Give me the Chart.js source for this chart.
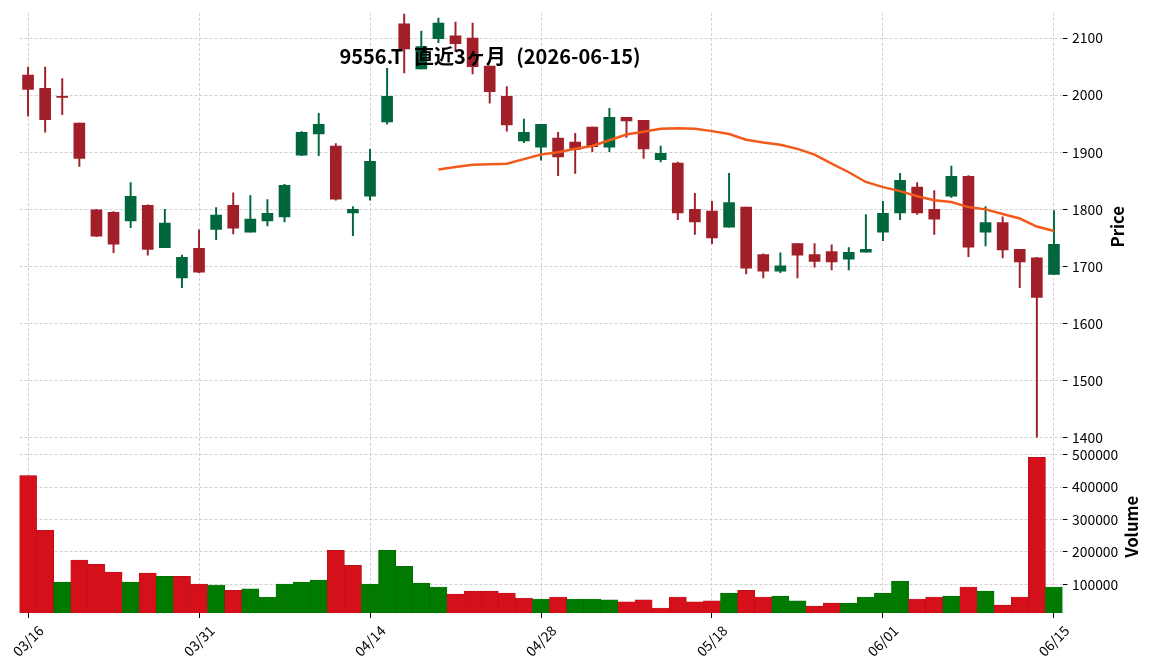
<!DOCTYPE html>
<html>
<head>
<meta charset="utf-8">
<script src="https://cdn.jsdelivr.net/npm/chart.js@4.4.1/dist/chart.umd.min.js"></script>
<style>
  html, body { margin: 0; padding: 0; background: #ffffff; }
  #wrap { width: 1152px; height: 670px; position: relative; }
</style>
</head>
<body>
<div id="wrap"><canvas id="c" width="1152" height="670"></canvas></div>
<script>
const chartTitle = '9556.T 直近3ヶ月 (2026-06-15)';

const dates = [
  '03/16','03/17','03/18','03/19','03/23','03/24','03/25','03/26','03/27','03/30',
  '03/31','04/01','04/02','04/03','04/06','04/07','04/08','04/09','04/10','04/13',
  '04/14','04/15','04/16','04/17','04/20','04/21','04/22','04/23','04/24','04/27',
  '04/28','04/30','05/01','05/07','05/08','05/11','05/12','05/13','05/14','05/15',
  '05/18','05/19','05/20','05/21','05/22','05/25','05/26','05/27','05/28','05/29',
  '06/01','06/02','06/03','06/04','06/05','06/08','06/09','06/10','06/11','06/12',
  '06/15'
];

const opens = [
  2035,2012,1998,1951,1799,1795,1780,1807,1733,1680,
  1732,1765,1807,1760,1780,1787,1895,1932,1911,1794,
  1823,1953,2125,2046,2099,2104,2100,2051,1998,1920,
  1909,1925,1918,1944,1909,1961,1956,1887,1881,1800,
  1797,1769,1804,1721,1692,1740,1721,1726,1713,1725,
  1760,1794,1839,1800,1823,1858,1760,1777,1730,1715,
  1686
];
const highs = [
  2049,2049,2029,1951,1800,1796,1847,1808,1800,1720,
  1764,1803,1829,1824,1817,1844,1936,1968,1915,1805,
  1905,2047,2142,2112,2135,2128,2126,2051,2015,1958,
  1949,1935,1933,1944,1977,1961,1956,1911,1883,1828,
  1814,1863,1804,1722,1724,1740,1740,1738,1733,1791,
  1814,1863,1847,1833,1876,1859,1805,1787,1730,1716,
  1798
];
const lows = [
  1963,1935,1966,1875,1752,1724,1768,1720,1733,1663,
  1689,1747,1757,1760,1771,1778,1894,1894,1816,1754,
  1816,1949,2039,2046,2092,2076,2037,1986,1937,1917,
  1886,1859,1863,1901,1901,1926,1889,1883,1782,1756,
  1740,1769,1687,1680,1689,1680,1699,1694,1694,1725,
  1745,1782,1791,1756,1821,1717,1736,1715,1663,1401,
  1686
];
const closes = [
  2010,1957,1996,1889,1753,1739,1823,1730,1776,1716,
  1690,1790,1767,1783,1793,1842,1935,1949,1818,1800,
  1884,1998,2081,2085,2126,2090,2050,2006,1948,1935,
  1949,1892,1905,1910,1961,1955,1906,1898,1794,1778,
  1750,1812,1697,1692,1701,1720,1709,1708,1725,1730,
  1793,1851,1794,1783,1858,1734,1777,1729,1708,1646,
  1739
];
const volumes = [
  436000,267000,107000,175000,162000,138000,107000,135000,125000,125000,
  101000,98000,82000,86000,61000,101000,107000,113000,205000,159000,
  101000,205000,156000,104000,92000,70000,79000,79000,73000,58000,
  55000,61000,55000,55000,52000,46000,52000,27000,61000,46000,
  49000,73000,82000,61000,64000,49000,33000,42000,42000,61000,
  73000,110000,55000,61000,64000,92000,79000,36000,61000,492000,
  92000
];
const ma25 = [
  null,null,null,null,null,null,null,null,null,null,
  null,null,null,null,null,null,null,null,null,null,
  null,null,null,null,1870,1874,1878,1879,1880,1888,
  1896,1900,1906,1911,1921,1931,1936,1941,1942,1941,
  1937,1932,1922,1917,1913,1906,1896,1880,1865,1848,
  1839,1832,1823,1816,1813,1804,1800,1792,1784,1770,
  1762
];
const priceTicks = [1400,1500,1600,1700,1800,1900,2000,2100];
const volumeTicks = [100000,200000,300000,400000,500000];

const CANDLE_UP = '#00663c';
const CANDLE_DOWN = '#a01f29';
const VOL_UP = '#007a00';
const VOL_DOWN = '#d5101b';
const GRID = '#c6c6c6';
const FONT = '"Noto Sans CJK JP", "Noto Sans", sans-serif';

const candleColors = opens.map((o, i) => closes[i] >= o ? CANDLE_UP : CANDLE_DOWN);
const volColors = closes.map((c, i) => (i > 0 && c >= closes[i - 1]) ? VOL_UP : VOL_DOWN);
const volBorders = volColors.map(c => c === VOL_UP ? '#006400' : '#a80d16');

Chart.defaults.font.family = FONT;
Chart.defaults.color = '#000';

const overlay = {
  id: 'overlay',
  afterDraw(chart) {
    const { ctx, chartArea, scales } = chart;
    ctx.save();
    ctx.fillStyle = '#000';
    // x tick labels
    ctx.font = '13.9px ' + FONT;
    ctx.textAlign = 'center';
    ctx.textBaseline = 'middle';
    dates.forEach((d, i) => {
      if (i % 10 !== 0) return;
      const x = scales.x.getPixelForValue(i);
      ctx.save();
      ctx.translate(x, chartArea.bottom + 28);
      ctx.rotate(-Math.PI / 4);
      ctx.fillText(d, 0, 0);
      ctx.restore();
    });
    // axis titles
    ctx.font = 'bold 16.7px ' + FONT;
    const py = (scales.y.top + scales.y.bottom) / 2;
    ctx.save();
    ctx.translate(chartArea.right + 55, py);
    ctx.rotate(-Math.PI / 2);
    ctx.fillText('Price', 0, 0);
    ctx.restore();
    const vy = (scales.yv.top + scales.yv.bottom) / 2;
    ctx.save();
    ctx.translate(chartArea.right + 69.5, vy);
    ctx.rotate(-Math.PI / 2);
    ctx.fillText('Volume', 0, 0);
    ctx.restore();
    // chart title
    ctx.font = 'bold 20px ' + FONT;
    if ('wordSpacing' in ctx) ctx.wordSpacing = '6px';
    ctx.fillText(chartTitle, 490, 56);
    ctx.restore();
  }
};

const yFit = (s) => { s.width = 89.5; };

new Chart(document.getElementById('c'), {
  type: 'bar',
  data: {
    labels: dates,
    datasets: [
      {
        type: 'line', label: 'MA25', data: ma25, yAxisID: 'y', order: 0,
        borderColor: '#f25a1c', borderWidth: 2.5, pointRadius: 0, tension: 0,
        spanGaps: false
      },
      {
        label: 'body', data: opens.map((o, i) => [o, closes[i]]), yAxisID: 'y', order: 1,
        backgroundColor: candleColors, borderWidth: 0, barThickness: 11, grouped: false
      },
      {
        label: 'wick', data: lows.map((l, i) => [l, highs[i]]), yAxisID: 'y', order: 2,
        backgroundColor: candleColors, borderWidth: 0, barThickness: 1.3, grouped: false
      },
      {
        label: 'Volume', data: volumes, yAxisID: 'yv', order: 3,
        backgroundColor: volColors, borderColor: volBorders, borderWidth: 0.5,
        barPercentage: 1, categoryPercentage: 1, grouped: false
      }
    ]
  },
  options: {
    responsive: false,
    animation: false,
    devicePixelRatio: 1,
    layout: { autoPadding: false, padding: { left: 19.5, top: 11, right: 0, bottom: 0 } },
    plugins: { legend: { display: false }, tooltip: { enabled: false }, title: { display: false } },
    scales: {
      x: {
        type: 'category',
        offset: true,
        afterFit: (s) => { s.height = 57; },
        grid: {
          offset: false,
          color: (c) => (c.index % 10 === 0 ? GRID : 'rgba(0,0,0,0)'),
          lineWidth: 0.8,
          drawTicks: true,
          tickLength: 5,
          tickColor: (c) => (c.index % 10 === 0 ? '#000' : 'rgba(0,0,0,0)'),
          tickWidth: 1,
          tickBorderDash: []
        },
        border: { display: false, dash: [3, 2] },
        ticks: { display: false, autoSkip: false }
      },
      y: {
        type: 'linear',
        position: 'right',
        stack: 'panels',
        stackWeight: 429,
        min: 1395.3,
        max: 2144.1,
        afterFit: yFit,
        afterBuildTicks: (s) => { s.ticks = priceTicks.map(v => ({ value: v })); },
        grid: {
          color: GRID, lineWidth: 0.8, drawTicks: true, tickLength: 5,
          tickColor: '#000', tickWidth: 1, tickBorderDash: []
        },
        border: { display: false, dash: [3, 2] },
        ticks: { padding: 4.5, font: { size: 13.9 }, color: '#000', callback: (v) => String(v) }
      },
      yv: {
        type: 'linear',
        position: 'right',
        stack: 'panels',
        stackWeight: 173,
        min: 11700,
        max: 544000,
        afterFit: yFit,
        afterBuildTicks: (s) => { s.ticks = volumeTicks.map(v => ({ value: v })); },
        grid: {
          color: GRID, lineWidth: 0.8, drawTicks: true, tickLength: 5,
          tickColor: '#000', tickWidth: 1, tickBorderDash: []
        },
        border: { display: false, dash: [3, 2] },
        ticks: { padding: 4.5, font: { size: 13.9 }, color: '#000', callback: (v) => String(v) }
      }
    }
  },
  plugins: [overlay]
});
</script>
</body>
</html>
